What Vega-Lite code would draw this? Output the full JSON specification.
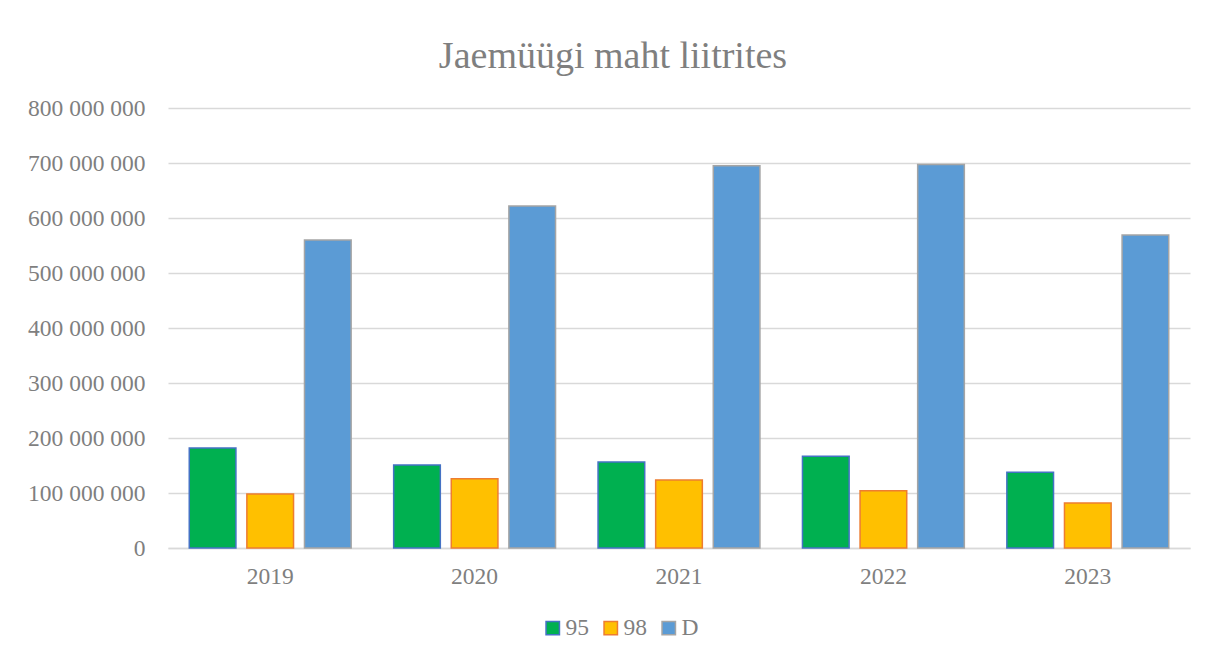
{
  "$schema": "https://vega.github.io/schema/vega-lite/v6.json",
  "autosize": "none",
  "width": 1022,
  "height": 440,
  "padding": {"left": 168, "top": 108, "right": 18, "bottom": 110},
  "background": "white",
  "config": {
    "locale": {"number": {"decimal": ",", "thousands": " ", "grouping": [3], "currency": ["", " €"]}},
    "view": {"stroke": null},
    "font": "Liberation Serif"
  },
  "title": {
    "text": "Jaemüügi maht liitrites",
    "fontSize": 38,
    "fontWeight": "normal",
    "color": "#7F7F7F",
    "font": "Liberation Serif",
    "anchor": "middle",
    "dx": -66,
    "offset": 20
  },
  "data": {
    "values": [
      {"aasta": "2019", "kutus": "95", "liitrid": 181800000},
      {"aasta": "2019", "kutus": "98", "liitrid": 98200000},
      {"aasta": "2019", "kutus": "D", "liitrid": 560000000},
      {"aasta": "2020", "kutus": "95", "liitrid": 150900000},
      {"aasta": "2020", "kutus": "98", "liitrid": 126000000},
      {"aasta": "2020", "kutus": "D", "liitrid": 621800000},
      {"aasta": "2021", "kutus": "95", "liitrid": 156400000},
      {"aasta": "2021", "kutus": "98", "liitrid": 123800000},
      {"aasta": "2021", "kutus": "D", "liitrid": 695000000},
      {"aasta": "2022", "kutus": "95", "liitrid": 167000000},
      {"aasta": "2022", "kutus": "98", "liitrid": 104000000},
      {"aasta": "2022", "kutus": "D", "liitrid": 697200000},
      {"aasta": "2023", "kutus": "95", "liitrid": 137600000},
      {"aasta": "2023", "kutus": "98", "liitrid": 81800000},
      {"aasta": "2023", "kutus": "D", "liitrid": 569000000}
    ]
  },
  "mark": {"type": "bar", "strokeWidth": 1.5},
  "encoding": {
    "x": {
      "field": "aasta",
      "type": "nominal",
      "title": null,
      "scale": {"paddingInner": 0.208, "paddingOuter": 0.104},
      "axis": {
        "labelAngle": 0,
        "labelFontSize": 23.5,
        "labelColor": "#7F7F7F",
        "labelFont": "Liberation Serif",
        "labelPadding": 16,
        "ticks": false,
        "domainColor": "#D9D9D9",
        "domainWidth": 1.5
      }
    },
    "xOffset": {
      "field": "kutus",
      "type": "nominal",
      "scale": {"paddingInner": 0.19, "paddingOuter": 0}
    },
    "y": {
      "field": "liitrid",
      "type": "quantitative",
      "title": null,
      "scale": {"domain": [0, 800000000]},
      "axis": {
        "values": [0, 100000000, 200000000, 300000000, 400000000, 500000000, 600000000, 700000000, 800000000],
        "format": ",d",
        "labelFontSize": 23.5,
        "labelColor": "#7F7F7F",
        "labelFont": "Liberation Serif",
        "labelPadding": 23,
        "ticks": false,
        "domain": false,
        "gridColor": "#D9D9D9",
        "gridWidth": 1.5
      }
    },
    "color": {
      "field": "kutus",
      "type": "nominal",
      "title": null,
      "scale": {"domain": ["95", "98", "D"], "range": ["#00B050", "#FFC000", "#5B9BD5"]},
      "legend": {
        "orient": "none",
        "legendX": 373,
        "legendY": 508,
        "direction": "horizontal",
        "symbolType": "square",
        "symbolSize": 180,
        "symbolStrokeWidth": 1.5,
        "labelFontSize": 23.5,
        "labelColor": "#7F7F7F",
        "labelFont": "Liberation Serif",
        "labelOffset": 1,
        "columnPadding": 10
      }
    },
    "stroke": {
      "field": "kutus",
      "type": "nominal",
      "scale": {"domain": ["95", "98", "D"], "range": ["#4472C4", "#ED7D31", "#A5A5A5"]},
      "legend": null
    }
  }
}
